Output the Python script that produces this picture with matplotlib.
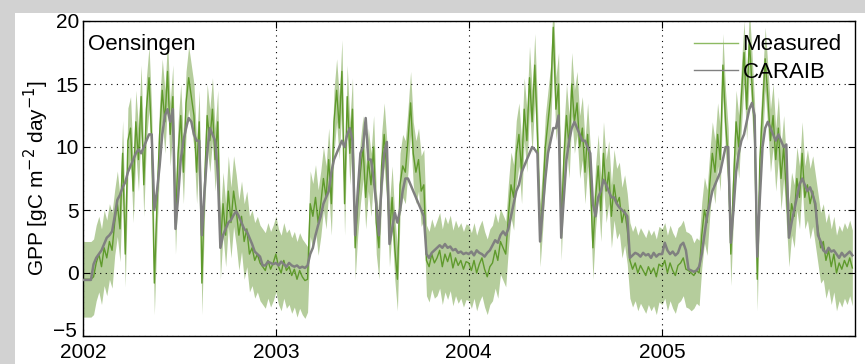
import numpy as np
import pandas as pd
import matplotlib
matplotlib.use("Agg")
import matplotlib.pyplot as plt
import matplotlib.dates as mdates
from matplotlib.patches import Rectangle
from matplotlib.ticker import FuncFormatter

plt.rcParams['font.family'] = ['Liberation Sans', 'DejaVu Sans']

# ---- data: 5-day samples per year (73 per year), GPP in gC m-2 day-1 ----
years = [2002, 2003, 2004, 2005]

measured_2002 = [-0.5, -0.5, -0.5, -0.5, -0.3, 0.8, 1.5, 0.5, 2.0, 1.2, 2.5, 1.8, 4.0, 5.5, 3.5,
                 9.5, 1.5, 10.5, 11.5, 6.5, 12.0, 9.0, 14.0, 7.0, 13.0, 15.5, 10.5, -0.8, 5.5, 11.0,
                 14.5, 12.0, 16.0, 11.0, 14.0, 4.0, 9.5, 12.5, 8.0, 13.5, 15.5, 14.0, 12.5, 8.0, 12.0,
                 -0.8, 7.0, 12.5, 10.5, 13.0, 9.0, 12.0, 2.0, 5.5, 3.0, 6.5, 4.0, 6.5, 5.0, 3.0,
                 4.5, 2.5, 3.5, 1.5, 2.0, 1.0, 1.5, 0.8, 0.5, 0.2, 1.0, 0.3, 0.8]
caraib_2002 = [-0.55, -0.55, -0.55, -0.55, 0.7, 1.2, 1.5, 1.8, 2.3, 2.8, 3.0, 3.3, 4.5, 5.8, 6.2,
               6.8, 7.2, 8.0, 8.5, 9.0, 9.5, 9.8, 9.5, 10.0, 10.5, 11.0, 11.0, 5.0, 6.5, 8.5,
               11.0, 12.5, 13.0, 12.0, 13.0, 3.5, 6.0, 9.0, 10.5, 11.5, 12.3, 12.0, 11.0, 10.5, 10.5,
               3.0, 6.5, 9.5, 11.5, 11.0, 10.5, 8.0, 2.0, 3.0, 3.5, 4.0, 4.2, 4.6, 4.9, 4.5,
               4.0, 3.5, 3.3, 2.8, 2.3, 1.7, 1.5, 1.3, 0.6, 0.6, 0.9, 0.8, 0.7]

measured_2003 = [1.5, 0.5, 0.0, 1.0, 0.2, 0.5, -0.2, 0.3, -0.5, 0.2, -0.3, -0.6, -0.5, 5.5, 4.5,
                 6.0, 4.0, 5.5, 7.5, 6.0, 9.0, 5.5, 12.0, 14.5, 11.5, 16.0, 5.5, 14.0, 9.5, 13.0,
                 2.0, 5.5, 8.0, 10.0, 6.0, 9.0, 7.0, 10.0, 4.0, 2.0, 8.5, 11.0, 8.0, 3.0, 6.0,
                 2.0, -0.5, 7.0, 8.5, 8.0, 10.5, 13.5, 9.5, 8.0, 9.0, 6.5, 7.0, 1.0, 0.5, 1.5,
                 0.8, 1.2, 1.8, 0.5, 1.5, 0.9, 1.6, 0.4, 1.2, 0.6, 1.0, 0.3, 0.9]
caraib_2003 = [0.8, 0.6, 0.9, 0.7, 0.5, 0.8, 0.6, 0.5, 0.6, 0.4, 0.5, 0.4, 0.6, 1.5, 2.0,
               3.0, 3.8, 4.5, 5.5, 6.0, 6.5, 8.0, 9.0, 9.5, 10.0, 10.5, 10.0, 11.0, 11.5, 10.5,
               3.0, 6.5, 9.5, 10.0, 12.3, 9.0, 9.0, 7.5, 5.5, 3.0, 7.0, 9.5, 10.4, 2.3, 3.5,
               4.8, 4.0, 5.0, 6.5, 7.5, 7.5, 7.0, 6.5, 6.0, 5.5, 5.0, 4.5, 1.5, 1.2, 1.6,
               1.8, 2.0, 2.2, 2.0, 2.3, 2.0, 2.1, 1.8, 1.9, 1.6, 1.7, 1.5, 1.6]

measured_2004 = [0.8, 0.2, 1.0, 0.0, 0.7, 1.2, 0.3, -0.3, 0.5, 0.8, 1.8, 1.0, 2.5, 2.0, 1.5,
                 4.5, 7.0, 6.0, 9.5, 11.0, 8.0, 13.0, 10.5, 15.5, 12.0, 16.5, 11.0, 3.0, 6.0, 10.0,
                 12.0, 14.0, 19.5, 13.0, 15.0, 3.5, 9.0, 12.5, 10.0, 15.0, 12.0, 13.5, 10.0, 11.5, 8.0,
                 11.0, 7.5, 2.0, 6.0, 8.5, 5.0, 9.5, 6.5, 8.0, 4.5, 7.0, 5.5, 6.0, 4.0, 5.0,
                 3.5, 1.0, 0.3, 0.8, 0.0, 0.6, 0.2, -0.2, 0.5, 0.0, 0.4, -0.3, 0.7]
caraib_2004 = [1.5, 1.7, 1.4, 1.8, 1.6, 1.5, 1.3, 1.6, 1.8, 2.2, 2.6, 2.4, 3.0, 3.3, 3.0,
               3.5, 4.5, 5.5, 6.5, 7.0, 8.0, 8.5, 9.0, 9.5, 10.0, 9.8, 9.5, 2.5, 5.0, 7.5,
               9.5, 10.5, 11.5, 11.5, 12.5, 2.8, 6.0, 9.0, 10.5, 11.5, 12.0, 11.5, 11.0, 10.5, 10.5,
               10.0, 9.5, 5.5, 4.5, 6.0, 6.5, 7.4, 7.0, 6.5, 6.0, 6.0, 5.5, 5.2, 5.0, 4.8,
               4.5, 1.2, 1.4, 1.6, 1.5, 1.3, 1.6, 1.4, 1.5, 1.2, 1.6, 1.3, 1.5]

measured_2005 = [0.5, 1.0, 0.0, 0.8, 0.2, -0.2, 0.6, 0.8, 1.2, 0.3, 0.2, 0.0, -0.2, 0.2, 0.0,
                 3.0, 5.0, 4.0, 7.0, 9.5, 8.0, 11.0, 9.0, 16.5, 12.0, 9.0, 1.5, 7.0, 12.0, 10.0,
                 14.0, 17.5, 13.0, 18.5, 15.0, 11.0, -0.5, 9.0, 13.0, 17.0, 14.0, 10.5, 12.5, 9.0, 11.5,
                 7.5, 10.0, 6.5, 3.0, 5.5, 4.5, 7.5, 6.0, 9.5, 6.0, 7.0, 5.5, 6.5, 5.0, 3.5,
                 2.0, 2.5, 1.0, 1.8, 0.5, 1.5, 0.0, 0.8, 0.3, 1.0, 0.5, 1.2, 0.4]
caraib_2005 = [1.5, 2.4, 1.8, 1.5, 1.7, 1.4, 1.6, 2.2, 2.4, 1.8, 0.3, 0.2, 0.1, 0.2, 0.5,
               1.5, 3.0, 4.5, 5.5, 6.5, 7.0, 7.5, 8.0, 9.0, 10.0, 10.0, 2.4, 5.0, 8.0, 9.5,
               10.5, 11.0, 12.0, 13.0, 13.5, 12.5, 1.3, 6.0, 10.0, 11.5, 12.0, 11.5, 11.0, 10.5, 11.0,
               10.5, 10.0, 10.2, 2.8, 4.0, 5.0, 6.0, 7.0, 7.5, 7.0, 6.5, 6.8, 6.2, 5.5, 3.0,
               2.5, 1.8, 1.6, 2.0, 1.7, 1.8, 1.5, 1.2, 1.6, 1.3, 1.5, 1.7, 1.4]

# uncertainty half-width of the measured band, by calendar month
err_month = [3.0, 3.0, 2.6, 2.5, 2.5, 2.5, 2.5, 2.5, 2.5, 2.8, 3.0, 3.0]

y_ticks = [-5, 0, 5, 10, 15, 20]

measured = np.array(measured_2002 + measured_2003 + measured_2004 + measured_2005)
caraib = np.array(caraib_2002 + caraib_2003 + caraib_2004 + caraib_2005)
dates = pd.DatetimeIndex(np.concatenate(
    [pd.date_range(f"{y}-01-01", periods=73, freq="5D").values for y in years]))
err = np.array([err_month[m - 1] for m in dates.month])

# ---- figure ----
fig = plt.figure(figsize=(8.65, 3.64), dpi=100)
fig.patch.set_facecolor('white')
# grey border (top and left) of the original page
fig.patches.append(Rectangle((0, 1 - 13 / 364), 1, 13 / 364, transform=fig.transFigure,
                             facecolor='#d2d2d2', edgecolor='none', zorder=-10))
fig.patches.append(Rectangle((0, 0), 15 / 865, 1, transform=fig.transFigure,
                             facecolor='#d2d2d2', edgecolor='none', zorder=-10))

ax = fig.add_axes([83 / 865, 1 - 336 / 364, (855 - 83) / 865, (336 - 21) / 364])

green_line = '#5f9a2c'
green_band = '#b5cd9c'
gray_line = '#808080'

ax.fill_between(dates, measured - err, measured + err, color=green_band,
                linewidth=0, zorder=1)
ax.plot(dates, measured, color=green_line, lw=1.0, label='Measured', zorder=2)
ax.plot(dates, caraib, color=gray_line, lw=1.8, label='CARAIB', zorder=3)

ax.set_xlim(pd.Timestamp('2002-01-01'), pd.Timestamp('2006-01-01'))
ax.set_ylim(y_ticks[0], y_ticks[-1])
ax.set_yticks(y_ticks)
# lowest y label is drawn separately (nudged up so it clears the "2002" label)
ax.yaxis.set_major_formatter(FuncFormatter(
    lambda v, p: '' if v == y_ticks[0] else f'{v:g}'))
ax.annotate(f'\u2212{abs(y_ticks[0])}', xy=(0, y_ticks[0]),
            xycoords=('axes fraction', 'data'), xytext=(-4.2, 3),
            textcoords='offset points', ha='right', va='center', fontsize=15)
ax.set_xticks([pd.Timestamp(f'{y}-01-01') for y in years])
ax.xaxis.set_major_formatter(mdates.DateFormatter('%Y'))

ax.grid(True, linestyle=(0, (1, 4)), color='black', linewidth=0.8)
ax.tick_params(direction='in', top=True, right=True, labelsize=15, length=5)
ax.tick_params(axis='x', pad=5)
ax.tick_params(axis='y', pad=3)
for s in ax.spines.values():
    s.set_linewidth(1.0)

ax.set_ylabel('GPP [gC m$^{-2}$ day$^{-1}$]', fontsize=15, labelpad=3)
ax.text(0.006, 0.96, 'Oensingen', transform=ax.transAxes, fontsize=16,
        va='top', ha='left')

leg = ax.legend(loc='upper right', frameon=False, fontsize=16, handlelength=2.0,
                handletextpad=0.2, labelspacing=0.3, borderaxespad=0.3,
                borderpad=0.3, bbox_to_anchor=(1.0, 1.0))
leg.get_lines()[0].set_color('#8dba62')
for ln in leg.get_lines():
    ln.set_linewidth(1.0)

fig.savefig('out.png', dpi=100, facecolor=fig.get_facecolor())
